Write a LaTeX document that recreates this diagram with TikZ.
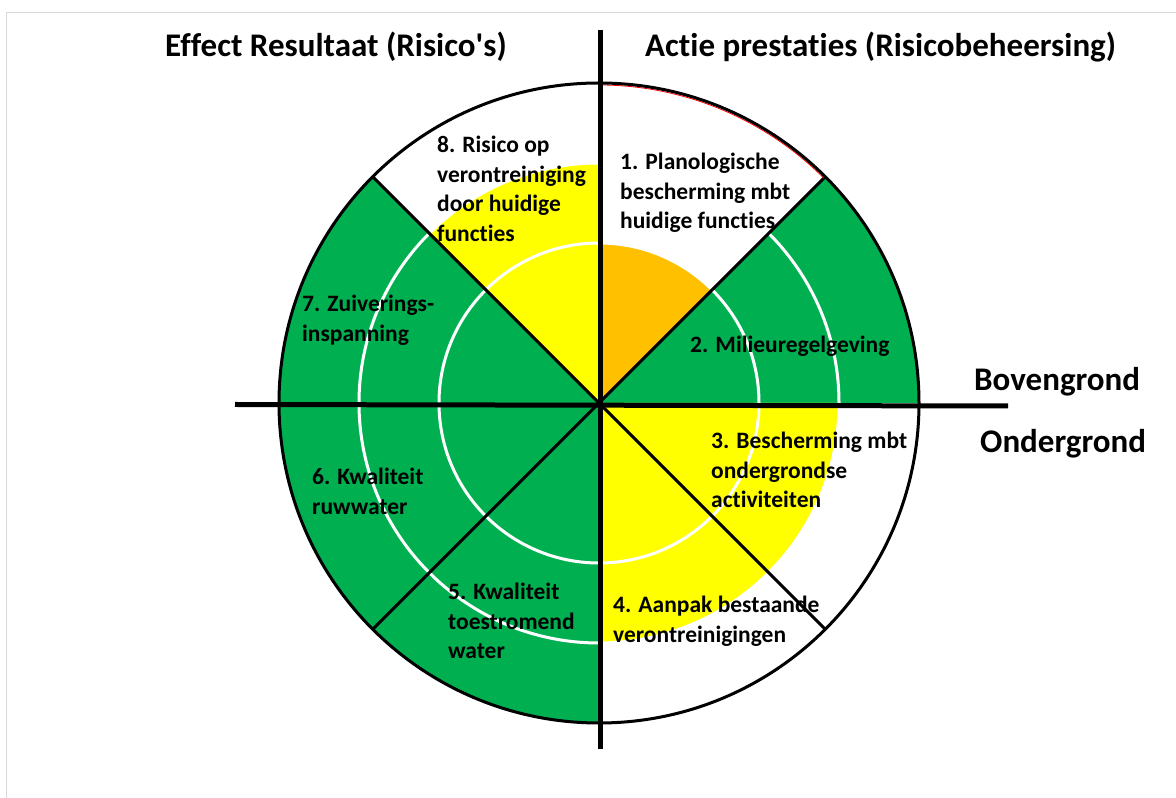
\documentclass[tikz,border=0pt]{standalone}
\usepackage{fontspec}
\setmainfont{Carlito}[Ligatures={NoCommon}]
\definecolor{cgreen}{HTML}{00B050}
\definecolor{cyellow}{HTML}{FFFF00}
\definecolor{corange}{HTML}{FFC000}
\definecolor{frame}{HTML}{D9D9D9}
\begin{document}
\begin{tikzpicture}[x=1pt,y=1pt,
  lbl/.style={anchor=north west,inner sep=0pt,align=left,font=\fontsize{23.5}{29.5}\selectfont\bfseries},
  ttl/.style={anchor=base west,inner sep=0pt,font=\fontsize{33}{40}\selectfont\bfseries},
  sepline/.style={line width=3pt,black},
  ring/.style={white,line width=3pt},
  axisline/.style={line width=5pt,black}]
\useasboundingbox (0,0) rectangle (1176,798);
% frame
\coordinate (f1) at (6,0);
\coordinate (f2) at (6,785);
\coordinate (f3) at (1176,785);
\draw[frame,line width=1pt] (f1) -- (f2) -- (f3);
\coordinate (C) at (599,395);
\def\R{320}
% sectors
\fill[corange] (C) -- ++(90:160) arc[start angle=90,end angle=45,radius=160] -- cycle;
\fill[cgreen] (C) -- ++(45:\R) arc[start angle=45,end angle=0,radius=\R] -- cycle;
\fill[cyellow] (C) -- ++(0:240) arc[start angle=0,end angle=-90,radius=240] -- cycle;
\fill[cgreen] (C) -- ++(-90:\R) arc[start angle=-90,end angle=-225,radius=\R] -- cycle;
\fill[cyellow] (C) -- ++(135:240) arc[start angle=135,end angle=90,radius=240] -- cycle;
% rings
\draw[ring] (C) circle[radius=160];
\draw[ring] (C) circle[radius=240];
% separators
\draw[sepline] (C) -- ++(45:\R);
\draw[sepline] (C) -- ++(-45:\R);
\draw[sepline] (C) -- ++(-135:\R);
\draw[sepline] (C) -- ++(135:\R);
% outer circle
\draw[red,line width=0.8pt] (C) ++(90:318) arc[start angle=90,end angle=45,radius=318];
\draw[line width=3pt] (C) circle[radius=\R];
% axes
\coordinate (vt) at (600,768);
\coordinate (vb) at (600,49);
\coordinate (hl) at (235,393.5);
\coordinate (hr) at (1008,392);
\draw[axisline] (vt) -- (vb);
\draw[axisline] (hl) -- (hr);
% titles
\node[ttl] (t1) at (165,741) {Effect Resultaat (Risico\textquotesingle s)};
\node[ttl] (t2) at (645,741) {Actie prestaties (Risicobeheersing)};
\node[ttl] (bg) at (974,407) {Bovengrond};
\node[ttl] (og) at (980,345) {Ondergrond};
% labels
\node[lbl] (l1) at (620,649) {\strut 1. Planologische\\bescherming mbt\\huidige functies};
\node[lbl] (l2) at (690,466) {\strut 2. Milieuregelgeving};
\node[lbl] (l3) at (711,370) {\strut 3. Bescherming mbt\\ondergrondse\\activiteiten};
\node[lbl] (l4) at (613,206) {\strut 4. Aanpak bestaande\\verontreinigingen};
\node[lbl] (l5) at (448,219) {\strut 5. Kwaliteit\\toestromend\\water};
\node[lbl] (l6) at (312,334) {\strut 6. Kwaliteit\\ruwwater};
\node[lbl] (l7) at (302,507) {\strut 7. Zuiverings-\\inspanning};
\node[lbl] (l8) at (437,666) {\strut 8. Risico op\\verontreiniging\\door huidige\\functies};
\end{tikzpicture}
\end{document}
